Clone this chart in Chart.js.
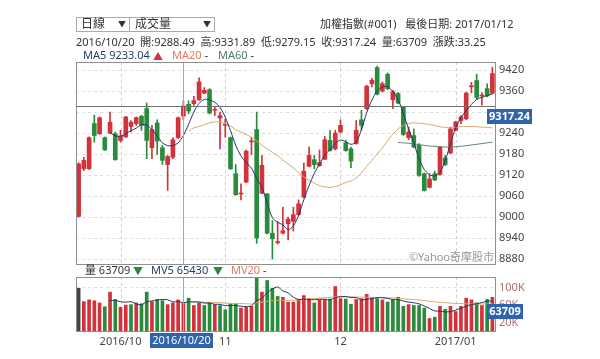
<!DOCTYPE html>
<html>
<head>
<meta charset="utf-8">
<script src="https://cdn.jsdelivr.net/npm/chart.js@4.4.0/dist/chart.umd.min.js"></script>
<style>
  body { margin: 0; width: 600px; height: 359px; overflow: hidden; position: relative; background: #fff;
         font-family: "Noto Sans", "Noto Sans CJK TC", sans-serif; color: #333; }
  canvas { position: absolute; left: 0; top: 0; }
  .t { position: absolute; font-size: 11px; line-height: 14px; white-space: pre; z-index: 2; }
  .sel { font-size: 12px; }
  .tri { font-size: 8px; }
  .box { position: absolute; top: 17px; height: 13px; border: 1px solid #aaa; background: #fff; z-index: 1; }
</style>
</head>
<body>
<canvas id="priceChart" width="600" height="359"></canvas>
<canvas id="volumeChart" width="600" height="359"></canvas>

<div class="box" style="left:76px;width:53px"></div>
<div class="box" style="left:129px;width:84px"></div>
<span class="t sel" style="left:81px;top:17px">日線</span>
<span class="t tri" style="left:118px;top:17px">▼</span>
<span class="t sel" style="left:135px;top:17px">成交量</span>
<span class="t tri" style="left:203px;top:17px">▼</span>
<span class="t" style="left:320px;top:17px">加權指數(#001)   最後日期: 2017/01/12</span>

<span class="t" style="left:76px;top:35px">2016/10/20  開:9288.49  高:9331.89  低:9279.15  收:9317.24  量:63709  漲跌:33.25</span>

<span class="t" style="left:83px;top:48px;color:#2b3b68">MA5 9233.04</span>
<span class="t tri" style="left:153px;top:49px;color:#d3323b;font-size:10px">▲</span>
<span class="t" style="left:172px;top:48px"><span style="color:#e07a5a">MA20</span> -</span>
<span class="t" style="left:218px;top:48px"><span style="color:#4f7b74">MA60</span> -</span>

<span class="t" style="left:85px;top:263px">量 63709</span>
<span class="t tri" style="left:133px;top:264px;color:#2a8a3d;font-size:10px">▼</span>
<span class="t" style="left:151px;top:263px;color:#2b3b68">MV5 65430</span>
<span class="t tri" style="left:213px;top:264px;color:#2a8a3d;font-size:10px">▼</span>
<span class="t" style="left:231px;top:263px"><span style="color:#e07a5a">MV20</span> -</span>

<script>
// trading days shown on the chart
const dates = [
  '2016/09/19','2016/09/20','2016/09/21','2016/09/22','2016/09/23','2016/09/26','2016/09/29','2016/09/30',
  '2016/10/03','2016/10/04','2016/10/05','2016/10/06','2016/10/07','2016/10/11','2016/10/12','2016/10/13',
  '2016/10/14','2016/10/17','2016/10/18','2016/10/19','2016/10/20','2016/10/21','2016/10/24','2016/10/25',
  '2016/10/26','2016/10/27','2016/10/28','2016/10/31',
  '2016/11/01','2016/11/02','2016/11/03','2016/11/04','2016/11/07','2016/11/08','2016/11/09','2016/11/10',
  '2016/11/11','2016/11/14','2016/11/15','2016/11/16','2016/11/17','2016/11/18','2016/11/21','2016/11/22',
  '2016/11/23','2016/11/24','2016/11/25','2016/11/28','2016/11/29','2016/11/30',
  '2016/12/01','2016/12/02','2016/12/05','2016/12/06','2016/12/07','2016/12/08','2016/12/09','2016/12/12',
  '2016/12/13','2016/12/14','2016/12/15','2016/12/16','2016/12/19','2016/12/20','2016/12/21','2016/12/22',
  '2016/12/23','2016/12/26','2016/12/27','2016/12/28','2016/12/29','2016/12/30',
  '2017/01/03','2017/01/04','2017/01/05','2017/01/06','2017/01/09','2017/01/10','2017/01/11','2017/01/12'
];

const opens = [
  9002, 9138, 9138, 9267, 9238, 9227, 9240, 9238, 9219, 9229,
  9259, 9267, 9288, 9310, 9198, 9269, 9198, 9150, 9171, 9227,
  9288.49, 9322, 9324, 9335, 9354, 9364, 9305, 9283, 9262, 9227,
  9124, 9066, 9100, 9215, 9250, 9068, 9066, 8954, 8927, 8954,
  8981, 8988, 9007, 9057, 9145, 9164, 9147, 9165, 9219, 9195,
  9243, 9212, 9195, 9210, 9278, 9310, 9381, 9427, 9360, 9408,
  9335, 9353, 9314, 9227, 9233, 9205, 9124, 9085, 9124, 9122,
  9169, 9183, 9248, 9276, 9281, 9372, 9390, 9346, 9367, 9354
];
const highs = [
  9155, 9171, 9229, 9291, 9286, 9229, 9300, 9243, 9248, 9288,
  9276, 9286, 9291, 9326, 9262, 9278, 9205, 9176, 9227, 9286,
  9331.89, 9332, 9345, 9398, 9370, 9367, 9314, 9300, 9280, 9229,
  9150, 9095, 9192, 9227, 9300, 9176, 9068, 8990, 8988, 9028,
  9000, 9028, 9049, 9154, 9200, 9176, 9192, 9230, 9248, 9248,
  9278, 9219, 9200, 9276, 9305, 9377, 9396, 9431, 9386, 9412,
  9362, 9356, 9314, 9257, 9252, 9210, 9126, 9124, 9131, 9202,
  9176, 9257, 9274, 9290, 9357, 9385, 9408, 9356, 9381, 9428
];
const lows = [
  9000, 9133, 9136, 9214, 9236, 9190, 9238, 9162, 9214, 9227,
  9243, 9262, 9248, 9167, 9167, 9179, 9150, 9076, 9167, 9224,
  9279.15, 9295, 9319, 9333, 9352, 9295, 9290, 9195, 9228, 9136,
  9062, 9049, 9098, 9179, 8925, 9066, 8952, 8880, 8923, 8952,
  8935, 8960, 9004, 9055, 9143, 9138, 9145, 9164, 9188, 9192,
  9240, 9188, 9141, 9208, 9248, 9307, 9372, 9349, 9357, 9364,
  9310, 9324, 9233, 9221, 9198, 9116, 9074, 9083, 9104, 9119,
  9147, 9181, 9246, 9267, 9278, 9355, 9336, 9320, 9343, 9352
];
const closes = [
  9152, 9162, 9227, 9233, 9284, 9192, 9271, 9164, 9231, 9286,
  9271, 9284, 9262, 9219, 9250, 9217, 9162, 9173, 9221, 9284,
  9317.24, 9303, 9333, 9386, 9362, 9297, 9308, 9290, 9263, 9138,
  9064, 9068, 9188, 9217, 8940, 9148, 8954, 8938, 8929, 8961,
  8994, 9007, 9038, 9131, 9176, 9150, 9156, 9221, 9190, 9240,
  9262, 9190, 9160, 9248, 9262, 9374, 9391, 9351, 9381, 9367,
  9358, 9326, 9236, 9243, 9200, 9119, 9076, 9109, 9106, 9200,
  9150, 9252, 9272, 9286, 9354, 9375, 9342, 9348, 9346, 9410
];
const volumes = [
  99000, 68000, 72000, 70000, 65000, 56000, 90000, 73000, 55000, 60000,
  61000, 65000, 63000, 90000, 68000, 73000, 70000, 61000, 65000, 72000,
  63709, 76000, 59000, 65000, 59000, 65000, 61000, 59000, 49000, 63000,
  63000, 53000, 55000, 57000, 123000, 90000, 117000, 99000, 80000, 78000,
  67000, 67000, 73000, 82000, 75000, 65000, 72000, 73000, 74000, 103000,
  75000, 74000, 62000, 73000, 75000, 85000, 78000, 75000, 72000, 67000,
  72000, 78000, 57000, 61000, 59000, 59000, 53000, 29000, 32000, 57000,
  50000, 57000, 45000, 57000, 76000, 72000, 65000, 59000, 73000, 78000
];

// moving averages, each starts where its line starts
const ma5Start = 6;
const ma5 = [
  9241, 9232, 9231, 9238, 9247, 9254, 9264, 9262, 9250, 9232,
  9212, 9204, 9204, 9212, 9233.04, 9265, 9300, 9325, 9336, 9335,
  9328, 9313, 9285, 9247, 9205, 9175, 9155, 9140, 9110, 9085,
  9040, 8998, 8985, 8978, 8964, 8975, 9005, 9050, 9090, 9125,
  9152, 9177, 9193, 9210, 9220, 9215, 9208, 9214, 9250, 9298,
  9334, 9360, 9372, 9372, 9358, 9335, 9296, 9252, 9212, 9167,
  9136, 9121, 9118, 9128, 9162, 9210, 9255, 9284, 9304, 9322,
  9336, 9342, 9347, 9352
];
const ma20Start = 21;
const ma20 = [
  9245, 9255, 9259, 9264, 9269, 9272, 9271, 9267, 9260, 9250,
  9243, 9236, 9228, 9218, 9205, 9195, 9185, 9175, 9163, 9152,
  9140, 9127, 9115, 9105, 9097, 9090, 9086, 9085, 9087, 9092,
  9099, 9103, 9112, 9126, 9145, 9162, 9180, 9198, 9218, 9237,
  9252, 9262, 9267, 9269, 9268, 9267, 9264, 9262, 9258, 9256,
  9255, 9256, 9258, 9259, 9259, 9258, 9257, 9256, 9255
];
const ma60Start = 61;
const ma60 = [
  9213, 9212, 9211, 9209, 9207, 9205, 9203, 9202, 9201, 9200,
  9200, 9201, 9202, 9204, 9206, 9208, 9210, 9212, 9214
];
const mv5Start = 6;
const mv5 = [
  70600, 70800, 67800, 66800, 67800, 62800, 60800, 67800, 69400, 71800,
  72800, 72400, 67400, 68200, 65430, 67600, 67200, 67200, 64600, 64800,
  61800, 61800, 58600, 59400, 59000, 57400, 56600, 58200, 70200, 75600,
  88400, 97200, 101800, 92800, 88200, 78200, 73000, 73400, 72800, 72400,
  73400, 73400, 71800, 77400, 79400, 79800, 77600, 77400, 71800, 73800,
  74600, 77200, 77000, 75400, 72800, 72800, 69200, 67000, 65400, 62800,
  57800, 52200, 46400, 46000, 44200, 45000, 48200, 53200, 57000, 61400,
  63000, 65800, 69000, 69400
];
const mv20Start = 21;
const mv20 = [
  68000, 67500, 67000, 66500, 66500, 66000, 65500, 64500, 64000, 64000,
  63500, 63000, 62500, 65500, 66500, 68500, 70000, 70500, 71000, 71000,
  71500, 72000, 72500, 74000, 75000, 76000, 77000, 78000, 79000, 79000,
  79000, 79000, 78500, 78500, 78000, 78000, 77500, 77500, 77000, 76500,
  75500, 74500, 73500, 72500, 71500, 70500, 69000, 67500, 66500, 65500,
  64500, 64000, 63500, 63000, 62500, 62500, 62500, 62500, 63000
];

const priceTicks = [8880, 8940, 9000, 9060, 9120, 9180, 9240, 9300, 9360, 9420];
const volumeTicks = [20000, 40000, 60000, 80000, 100000];
const monthLabels = ['2016/10', '11', '12', '2017/01'];
const hoverIndex = 20;

const RED = '#d3323b';
const GREEN = '#2a8a3d';
const NAVY = '#27375f';
const TAN = '#d9a766';
const SAGE = '#5f8476';
const TAG_BLUE = '#2f64ad';
const FONT = '"Noto Sans", "Noto Sans CJK TC", sans-serif';

function lead(start, values) {
  return new Array(start).fill(null).concat(values);
}

// first trading day of each month
const monthStarts = dates
  .map((d, i) => (i > 0 && d.slice(0, 7) !== dates[i - 1].slice(0, 7)) ? i : -1)
  .filter(i => i >= 0);

const candleColors = closes.map((c, i) => c >= opens[i] ? RED : GREEN);
const volumeColors = closes.map((c, i) => i === 0 ? '#444' : (c >= closes[i - 1] ? RED : GREEN));

function tag(ctx, text, left, top, bold) {
  ctx.font = (bold ? 'bold ' : '') + '11px ' + FONT;
  const w = Math.ceil(ctx.measureText(text).width) + 4;
  ctx.fillStyle = TAG_BLUE;
  ctx.fillRect(left, top, w, 15);
  ctx.fillStyle = '#fff';
  ctx.textAlign = 'center';
  ctx.textBaseline = 'middle';
  ctx.fillText(text, left + w / 2, top + 8);
}

// dashed month lines under the data, frame and crosshair on top
const panelFrame = {
  id: 'panelFrame',
  beforeDatasetsDraw(chart) {
    const { ctx, chartArea: a, scales: { x } } = chart;
    ctx.save();
    ctx.strokeStyle = '#d0d0d0';
    ctx.lineWidth = 1;
    ctx.setLineDash([3, 3]);
    monthStarts.forEach(i => {
      const px = Math.round(x.getPixelForValue(i)) + 0.5;
      ctx.beginPath();
      ctx.moveTo(px, a.top);
      ctx.lineTo(px, a.bottom);
      ctx.stroke();
    });
    ctx.restore();
  },
  afterDraw(chart) {
    const { ctx, chartArea: a, scales: { x } } = chart;
    ctx.save();
    const cx = Math.round(x.getPixelForValue(hoverIndex)) + 0.5;
    ctx.strokeStyle = '#a8a8a8';
    ctx.lineWidth = 1;
    ctx.beginPath();
    ctx.moveTo(cx, a.top);
    ctx.lineTo(cx, a.bottom);
    ctx.stroke();
    ctx.strokeStyle = '#8f8f8f';
    ctx.strokeRect(Math.round(a.left) + 0.5, Math.round(a.top) + 0.5,
                   Math.round(a.right - a.left), Math.round(a.bottom - a.top));
    ctx.restore();
  }
};

const priceMarks = {
  id: 'priceMarks',
  afterDraw(chart) {
    const { ctx, chartArea: a, scales: { y } } = chart;
    ctx.save();
    const py = Math.round(y.getPixelForValue(closes[hoverIndex])) + 0.5;
    ctx.strokeStyle = '#707070';
    ctx.beginPath();
    ctx.moveTo(a.left, py);
    ctx.lineTo(a.right, py);
    ctx.stroke();
    tag(ctx, closes[hoverIndex].toFixed(2), Math.round(a.right) - 8, Math.round(py + 2), true);
    ctx.font = '11px ' + FONT;
    ctx.fillStyle = '#9a9a9a';
    ctx.textAlign = 'right';
    ctx.textBaseline = 'middle';
    ctx.fillText('©Yahoo奇摩股市', a.right - 1, a.bottom - 6);
    ctx.restore();
  }
};

const volumeMarks = {
  id: 'volumeMarks',
  afterDraw(chart) {
    const { ctx, chartArea: a, scales: { x, y } } = chart;
    ctx.save();
    const vy = Math.round(y.getPixelForValue(volumes[hoverIndex]));
    tag(ctx, String(volumes[hoverIndex]), Math.round(a.right) - 8, vy + 1, true);
    ctx.font = '11px ' + FONT;
    ctx.fillStyle = '#444';
    ctx.textAlign = 'center';
    ctx.textBaseline = 'middle';
    monthStarts.forEach((i, k) => {
      ctx.fillText(monthLabels[k], x.getPixelForValue(i), a.bottom + 11);
    });
    ctx.font = '11px ' + FONT;
    const dw = Math.ceil(ctx.measureText(dates[hoverIndex]).width) + 4;
    tag(ctx, dates[hoverIndex], Math.round(x.getPixelForValue(hoverIndex) - 2 - dw / 2), Math.round(a.bottom + 2), false);
    ctx.restore();
  }
};

Chart.defaults.font.family = FONT;
Chart.defaults.animation = false;

new Chart(document.getElementById('priceChart'), {
  type: 'bar',
  data: {
    labels: dates,
    datasets: [
      { type: 'line', data: lead(ma5Start, ma5), borderColor: NAVY, borderWidth: 1, pointRadius: 0, tension: 0.3, order: 0 },
      { type: 'line', data: lead(ma20Start, ma20), borderColor: TAN, borderWidth: 1, pointRadius: 0, tension: 0.3, order: 0 },
      { type: 'line', data: lead(ma60Start, ma60), borderColor: SAGE, borderWidth: 1, pointRadius: 0, tension: 0.3, order: 0 },
      { data: opens.map((o, i) => [o, closes[i]]), backgroundColor: candleColors, barThickness: 4,
        minBarLength: 1, grouped: false, order: 1 },
      { data: lows.map((l, i) => [l, highs[i]]), backgroundColor: candleColors, barThickness: 1,
        grouped: false, order: 2 }
    ]
  },
  options: {
    responsive: false,
    layout: { padding: { left: 76, top: 62, right: 0, bottom: 95 } },
    plugins: { legend: { display: false }, tooltip: { enabled: false } },
    scales: {
      x: { display: false, offset: true },
      y: {
        position: 'right',
        min: 8866,
        max: 9443,
        afterBuildTicks: s => { s.ticks = priceTicks.map(v => ({ value: v })); },
        afterFit: s => { s.width = 105; },
        grid: { color: '#dedede', drawTicks: false },
        border: { display: false, dash: [3, 3] },
        // the 9300 label sits under the price tag
        ticks: { padding: 4, color: '#444', font: { size: 11 }, callback: v => v === 9300 ? '' : String(v) }
      }
    }
  },
  plugins: [panelFrame, priceMarks]
});

new Chart(document.getElementById('volumeChart'), {
  type: 'bar',
  data: {
    labels: dates,
    datasets: [
      { type: 'line', data: lead(mv5Start, mv5), borderColor: NAVY, borderWidth: 1, pointRadius: 0, tension: 0.3, order: 0 },
      { type: 'line', data: lead(mv20Start, mv20), borderColor: TAN, borderWidth: 1, pointRadius: 0, tension: 0.3, order: 0 },
      { data: volumes, backgroundColor: volumeColors, barThickness: 3, order: 1 }
    ]
  },
  options: {
    responsive: false,
    layout: { padding: { left: 76, top: 277, right: 0, bottom: 28 } },
    plugins: { legend: { display: false }, tooltip: { enabled: false } },
    scales: {
      x: { display: false, offset: true },
      y: {
        position: 'right',
        min: 0,
        max: 125000,
        afterBuildTicks: s => { s.ticks = volumeTicks.map(v => ({ value: v })); },
        afterFit: s => { s.width = 105; },
        grid: { color: c => c.tick && c.tick.value === 100000 ? '#dedede' : 'rgba(0,0,0,0)', drawTicks: false },
        border: { display: false, dash: [3, 3] },
        ticks: { padding: 4, color: '#b0706a', font: { size: 11 }, callback: v => (v / 1000) + 'K' }
      }
    }
  },
  plugins: [panelFrame, volumeMarks]
});
</script>
</body>
</html>
